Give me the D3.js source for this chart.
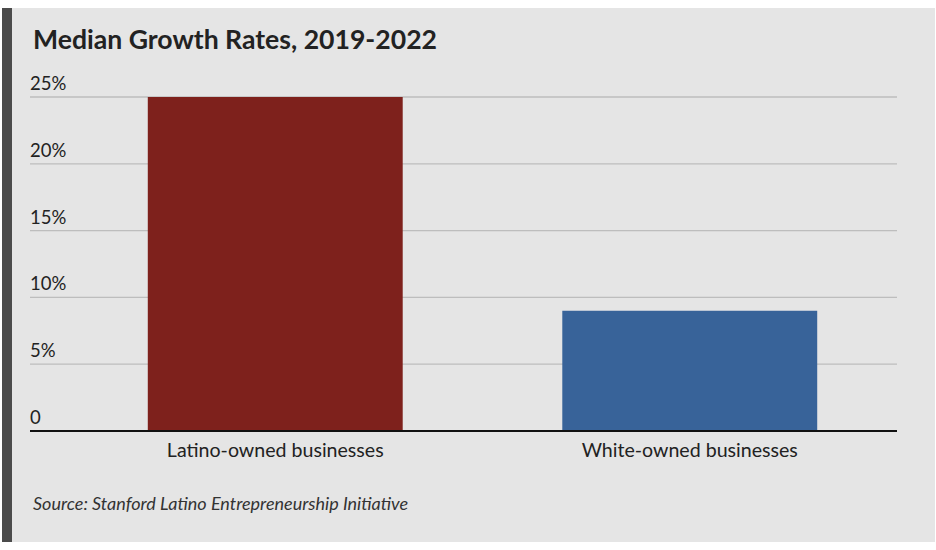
<!DOCTYPE html>
<html>
<head>
<meta charset="utf-8">
<script src="https://cdn.jsdelivr.net/npm/d3@7"></script>
<style>
  html, body { margin: 0; padding: 0; background: #fff; }
  svg { display: block; font-family: Lato, "Open Sans", sans-serif; }
</style>
</head>
<body>
<svg id="chart" width="936" height="550"></svg>
<script>
// data
var categories = ['Latino-owned businesses', 'White-owned businesses'];
var growthValues = [25, 9];
var barColors = ['#7e211c', '#386399'];
var yTicks = [0, 5, 10, 15, 20, 25];

var svg = d3.select('#chart');

// panel background + dark left stripe
svg.append('rect').attr('x', 2).attr('y', 8).attr('width', 933).attr('height', 534).attr('fill', '#e5e5e5');
svg.append('rect').attr('x', 2).attr('y', 8).attr('width', 10).attr('height', 534).attr('fill', '#4b4b4b');

// title
svg.append('text')
  .attr('x', 33).attr('y', 49)
  .attr('font-size', 26.6).attr('font-weight', 700)
  .attr('fill', '#222')
  .text('Median Growth Rates, 2019-2022');

// scales
var x = d3.scaleBand()
  .domain(categories)
  .range([68, 897])
  .paddingInner(0.385)
  .paddingOuter(0.1925);

var y = d3.scaleLinear()
  .domain([0, 25])
  .range([431, 97]);

// gridlines
svg.append('g').selectAll('line')
  .data(yTicks.filter(function(d) { return d > 0; }))
  .enter().append('line')
  .attr('x1', 30).attr('x2', 897)
  .attr('y1', function(d) { return y(d); })
  .attr('y2', function(d) { return y(d); })
  .attr('stroke', '#bdbdbd').attr('stroke-width', 1.3);

// y tick labels, sitting above the gridlines
svg.append('g').selectAll('text')
  .data(yTicks)
  .enter().append('text')
  .attr('x', 30)
  .attr('y', function(d) { return y(d) - 7; })
  .attr('font-size', 18.5).attr('fill', '#222')
  .text(function(d) { return d === 0 ? '0' : d + '%'; });

// bars
svg.append('g').selectAll('rect')
  .data(categories)
  .enter().append('rect')
  .attr('x', function(d) { return x(d); })
  .attr('y', function(d, i) { return y(growthValues[i]); })
  .attr('width', x.bandwidth())
  .attr('height', function(d, i) { return y(0) - y(growthValues[i]); })
  .attr('fill', function(d, i) { return barColors[i]; });

// baseline
svg.append('line')
  .attr('x1', 30).attr('x2', 897)
  .attr('y1', y(0)).attr('y2', y(0))
  .attr('stroke', '#111').attr('stroke-width', 2);

// x axis labels
var xAxis = d3.axisBottom(x).tickSize(0).tickPadding(12);
var gx = svg.append('g')
  .attr('transform', 'translate(0,' + y(0) + ')')
  .call(xAxis);
gx.select('.domain').remove();
gx.selectAll('text')
  .attr('font-size', 19.6)
  .attr('font-family', 'Lato, "Open Sans", sans-serif')
  .attr('fill', '#222');

// source note
svg.append('text')
  .attr('x', 33).attr('y', 510)
  .attr('font-size', 18).attr('font-style', 'italic')
  .attr('fill', '#333')
  .text('Source: Stanford Latino Entrepreneurship Initiative');
</script>
</body>
</html>
